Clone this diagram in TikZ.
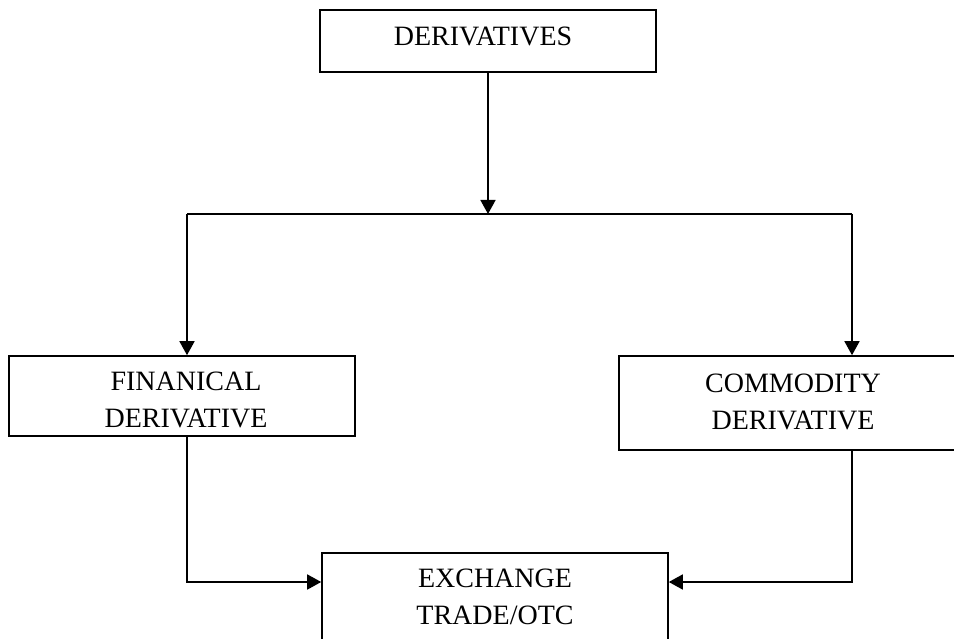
\documentclass[tikz,border=0pt]{standalone}
\usepackage{fontspec}
\setmainfont{Liberation Serif}
\usetikzlibrary{arrows.meta}
\usetikzlibrary{positioning}
\tikzset{
  box/.style={draw=black, line width=1.6pt, rectangle, inner sep=0pt},
  lbl/.style={anchor=north, inner sep=0pt, align=center, font=\fontsize{28}{37}\selectfont},
  con/.style={line width=1.6pt},
  arr/.style={line width=1.6pt, -{Triangle[length=14pt,width=15pt]}}
}

\begin{document}
\begin{tikzpicture}[x=1pt, y=-1pt]
\path[use as bounding box, fill=white] (0,0) rectangle (954,639);

\node[box, minimum width=336pt, minimum height=62pt] (deriv) at (488,41) {};
\node[box, minimum width=346pt, minimum height=80pt] (fin) at (182,396) {};
\node[box, minimum width=348pt, minimum height=94pt] (comm) at (793,403) {};
\node[box, minimum width=346pt, minimum height=110pt] (exch) at (495,608) {};

\node[lbl] (deriv-t) at (483,27) {DERIVATIVES};
\begin{scope}
  \clip (fin.north west) rectangle (355,427);
  \node[lbl] (fin-t) at (186,372) {FINANICAL\\DERIVATIVE};
\end{scope}
\node[lbl] (comm-t) at (793,374) {COMMODITY\\DERIVATIVE};
\node[lbl] (exch-t) at (495,569) {EXCHANGE\\TRADE/OTC};

\coordinate (split) at (488,214);
\coordinate (lsplit) at (187,214);
\coordinate (rsplit) at (852,214);
\coordinate (join) at (488,582);

\draw[arr] (deriv.south -| split) -- (split);
\draw[con] (lsplit) -- (rsplit);
\draw[arr] (lsplit) -- (lsplit |- fin.north);
\draw[arr] (rsplit) -- (rsplit |- comm.north);
\draw[arr] (lsplit |- fin.south) |- (exch.west |- join);
\draw[arr] (rsplit |- comm.south) |- (exch.east |- join);
\end{tikzpicture}
\end{document}
